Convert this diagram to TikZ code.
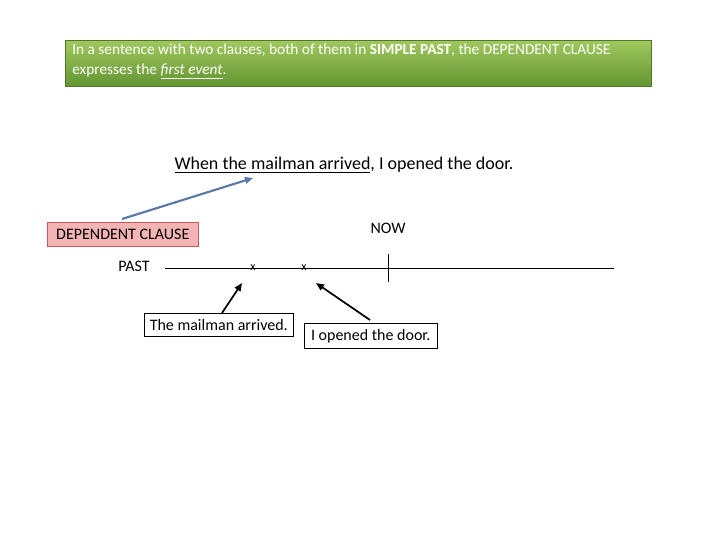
\documentclass[tikz,border=0pt]{standalone}
\usepackage{fontspec}
\setmainfont{Carlito}
\usetikzlibrary{arrows.meta}
\definecolor{gtop}{RGB}{160,200,95}
\definecolor{gbot}{RGB}{100,150,50}
\definecolor{steel}{RGB}{90,120,170}
\definecolor{pinkf}{RGB}{245,180,180}
\definecolor{redb}{RGB}{200,90,90}
\begin{document}
\begin{tikzpicture}[x=0.75pt,y=-0.75pt,
  txt/.style={font=\fontsize{12}{14}\selectfont,inner sep=0pt},
  box/.style={draw,thin,font=\fontsize{12}{14}\selectfont,inner sep=0pt,anchor=north west},
  arr/.style={-{Triangle[length=6pt,width=5pt]},line width=1.3pt}]
\useasboundingbox (0,0) rectangle (720,540);
\shade[top color=gtop, bottom color=gbot, draw=gbot!80!black] (65,40) rectangle (651,86);
\node[txt,font=\fontsize{11.5}{15}\selectfont,text=white,anchor=north west,align=left] (title) at (72,44) {In a sentence with two clauses, both of them in \textbf{SIMPLE PAST}, the DEPENDENT CLAUSE\\ expresses the \underline{\textit{first event}}.};
\node[txt,font=\fontsize{13.5}{16}\selectfont] (sent) at (344,165) {\underline{When the mailman arrived}, I opened the door.};
\coordinate (st) at (253,178);
\node[box,fill=pinkf,draw=redb,minimum width=151*0.75pt,minimum height=24*0.75pt] (dep) at (47,222) {DEPENDENT CLAUSE};
\draw[arr,line width=1.6pt,color=steel] (122,219) -- (st);
\node[txt] (now) at (388,228) {NOW};
\node[txt] (past) at (134,266) {PAST};
\coordinate (l1) at (165,268); \coordinate (l2) at (614,268);
\draw (l1) -- (l2);
\coordinate (t1) at (388,254); \coordinate (t2) at (388,282);
\draw (t1) -- (t2);
\node[txt,font=\fontsize{9}{10}\selectfont] (x1) at (253,268) {x};
\node[txt,font=\fontsize{9}{10}\selectfont] (x2) at (304,268) {x};
\node[box,minimum width=149*0.75pt,minimum height=23*0.75pt] (b1) at (144,313) {The mailman arrived.};
\node[box,minimum width=133*0.75pt,minimum height=25*0.75pt] (b2) at (304,323) {I opened the door.};
\coordinate (a1) at (242,283); \coordinate (a2) at (316,283);
\draw[arr] (222,313) -- (a1);
\draw[arr] (370,320) -- (a2);
\end{tikzpicture}
\end{document}
